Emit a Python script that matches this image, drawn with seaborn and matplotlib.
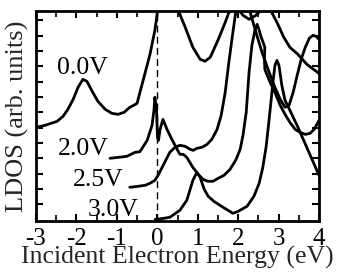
import numpy as np
import pandas as pd
import seaborn as sns
import matplotlib
matplotlib.use("Agg")
import matplotlib.pyplot as plt
from matplotlib.ticker import MultipleLocator, NullFormatter

# ---- data (energy in eV, LDOS in arb. units, offset) ----
x_00 = [-3.00, -2.78, -2.48, -2.33, -2.21, -2.08, -1.96, -1.84, -1.74, -1.61, -1.47, -1.29,
        -1.12, -0.97, -0.82, -0.68, -0.58, -0.50, -0.35, -0.18, -0.06, 0.02, 0.14, 0.31,
        0.49, 0.69, 0.88, 1.06, 1.18, 1.31, 1.51, 1.68, 1.82, 1.90, 1.97, 2.12, 2.27,
        2.44, 2.59, 2.69, 2.79, 2.96, 3.13, 3.28, 3.48, 3.70, 4.00]
y_00 = [6.02, 6.15, 6.41, 6.74, 7.20, 7.85, 8.63, 9.15, 9.02, 8.37, 7.72, 7.20,
        6.93, 6.87, 7.00, 7.33, 7.46, 7.59, 9.09, 10.79, 12.35, 13.85, 15.8, 15.8,
        13.85, 12.55, 11.24, 10.46, 10.33, 10.59, 11.76, 12.87, 13.85, 14.10, 13.85, 13.33, 13.07,
        13.33, 13.72, 14.10, 13.72, 12.87, 11.89, 11.24, 10.78, 10.13, 9.54]

x_20 = [-1.17, -0.97, -0.75, -0.55, -0.43, -0.25, -0.13, -0.08, -0.06, -0.02, 0.005, 0.03,
        0.07, 0.14, 0.24, 0.36, 0.49, 0.56, 0.64, 0.73, 0.88, 1.01, 1.13, 1.25, 1.38,
        1.50, 1.65, 1.80, 1.95, 2.05, 2.12, 2.20, 2.27, 2.34, 2.42, 2.47, 2.52, 2.57,
        2.61, 2.66, 2.65, 2.66, 2.71, 2.79, 2.91, 3.04, 3.16, 3.28, 3.41, 3.53, 3.66,
        3.78, 3.88, 4.00]
y_20 = [4.00, 4.06, 4.13, 4.39, 4.43, 5.17, 6.15, 7.19, 7.98, 7.20, 5.37, 5.17,
        5.89, 6.54, 5.89, 5.24, 4.59, 4.26, 4.26, 4.06, 3.41, 2.96, 2.63, 2.50, 2.50,
        2.69, 2.89, 3.28, 3.93, 4.59, 5.50, 7.00, 9.61, 11.37, 12.41, 12.74, 12.35, 11.89,
        11.63, 11.24, 10.46, 9.80, 9.48, 8.96, 8.30, 7.46, 6.87, 6.35, 5.89, 5.69, 5.56,
        5.63, 5.89, 6.47]

x_25 = [-0.68, -0.48, -0.30, -0.18, -0.06, 0.02, 0.12, 0.22, 0.31, 0.44, 0.56, 0.69,
        0.81, 0.89, 0.98, 1.11, 1.23, 1.35, 1.48, 1.58, 1.68, 1.77, 1.87, 1.94, 2.02,
        2.12, 2.22, 2.32, 2.44, 2.59, 2.74, 2.89, 3.04, 3.16, 3.26, 3.36, 3.46, 3.56,
        3.66, 3.76, 3.85, 3.93, 4.00]
y_25 = [2.11, 2.17, 2.24, 2.37, 2.56, 2.89, 3.41, 3.93, 4.39, 4.72, 4.85, 4.78,
        4.59, 4.52, 4.65, 4.72, 4.91, 5.24, 5.89, 6.80, 8.30, 10.26, 12.22, 13.52, 14.5,
        14.8, 14.17, 13.33, 12.22, 10.92, 9.80, 8.76, 7.85, 7.33, 7.46, 8.30, 9.41, 10.46,
        11.24, 11.83, 12.02, 11.96, 11.76]

x_30 = [-0.05, 0.00, 0.31, 0.56, 0.73, 0.88, 0.98, 1.06, 1.16, 1.26, 1.40, 1.63,
        1.87, 2.00, 2.22, 2.39, 2.52, 2.61, 2.69, 2.74, 2.81, 2.86, 2.91, 2.96, 3.01,
        3.08, 3.16, 3.28, 3.48, 3.73, 4.00]
y_30 = [0.02, 0.02, 0.15, 0.61, 1.26, 2.56, 3.09, 2.76, 1.98, 1.52, 1.19, 0.80,
        0.41, 0.54, 0.87, 1.52, 2.37, 3.41, 4.72, 5.89, 7.65, 8.95, 10.06, 10.39, 10.06,
        8.76, 7.78, 7.13, 6.02, 4.52, 2.89]

labels = ["0.0V", "2.0V", "2.5V", "3.0V"]
label_x = [-2.48, -2.45, -2.09, -1.71]
label_y = [9.48, 4.19, 2.17, 0.22]
xtick_vals = [-3, -2, -1, 0, 1, 2, 3, 4]

series = [(x_00, y_00), (x_20, y_20), (x_25, y_25), (x_30, y_30)]

sns.set_theme(style="ticks")
plt.rcParams["font.family"] = ["Liberation Serif", "DejaVu Serif"]
plt.rcParams["axes.unicode_minus"] = False

fig = plt.figure(figsize=(3.42, 2.72), dpi=100)
ax = fig.add_axes([36 / 342, 51 / 272, 283 / 342, 210 / 272])

for (xs, ys), lab in zip(series, labels):
    df = pd.DataFrame({"E": xs, "LDOS": ys})
    sns.lineplot(data=df, x="E", y="LDOS", sort=False, estimator=None,
                 color="black", linewidth=2.0, ax=ax)

ax.axvline(0, color="black", linewidth=1.0, linestyle=(0, (5, 3)))

for lab, lx, ly in zip(labels, label_x, label_y):
    ax.text(lx, ly, lab, fontsize=18.5, ha="left", va="baseline", color="black")

ax.set_xlim(-3, 4)
ax.set_ylim(-0.09, 13.61)
ax.set_xticks(xtick_vals)
ax.set_xticklabels([str(v) for v in xtick_vals])
ax.xaxis.set_minor_locator(MultipleLocator(0.5))
ax.set_yticks(np.arange(1, 14))
ax.yaxis.set_major_formatter(NullFormatter())
ax.tick_params(which="major", direction="in", length=5, width=1.5,
               top=True, right=True, labelsize=18, pad=5, colors="black")
ax.tick_params(which="minor", direction="in", length=4, width=1.5,
               top=True, right=True)
for s in ax.spines.values():
    s.set_linewidth(2.0)
    s.set_color("black")

ax.set_xlabel("Incident Electron Energy (eV)", fontsize=18.5, labelpad=-3)
ax.set_ylabel("LDOS (arb. units)", fontsize=19, labelpad=0)

fig.savefig("out.png", dpi=100)
